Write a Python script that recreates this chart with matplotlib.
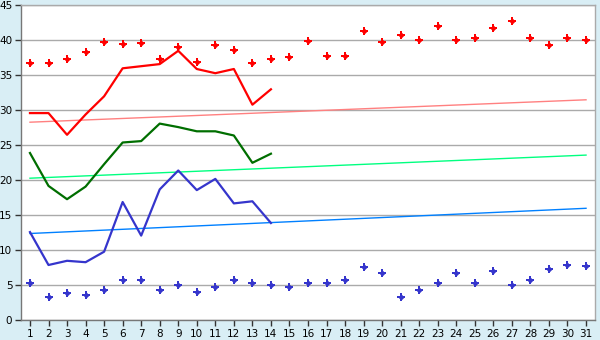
import matplotlib
matplotlib.use("Agg")
import matplotlib.pyplot as plt
import numpy as np

days = list(range(1, 32))
day_labels = [str(d) for d in days]

max_points = [36.7, 36.7, 37.3, 38.4, 39.7, 39.5, 39.6, 37.3, 39.0, 36.9,
              39.4, 38.6, 36.7, 37.3, 37.6, 39.9, 37.7, 37.7, 41.3, 39.7,
              40.7, 40.0, 42.0, 40.0, 40.4, 41.7, 42.7, 40.4, 39.4, 40.4, 40.0]
min_points = [5.3, 3.4, 3.9, 3.6, 4.4, 5.7, 5.7, 4.4, 5.0, 4.1,
              4.7, 5.7, 5.4, 5.0, 4.7, 5.3, 5.4, 5.7, 7.6, 6.7,
              3.4, 4.4, 5.4, 6.7, 5.4, 7.1, 5.0, 5.7, 7.3, 7.9, 7.7]

line_days = list(range(1, 15))
red_line = [29.6, 29.6, 26.5, 29.4, 32.0, 36.0, 36.3, 36.6, 38.5, 35.9, 35.3, 35.9, 30.8, 33.0]
green_line = [23.9, 19.2, 17.3, 19.1, 22.3, 25.4, 25.6, 28.1, 27.6, 27.0, 27.0, 26.4, 22.5, 23.8]
blue_line = [12.6, 7.9, 8.5, 8.3, 9.8, 16.9, 12.1, 18.7, 21.4, 18.6, 20.2, 16.7, 17.0, 13.9]

trend_days = [1, 31]
red_trend = [28.3, 31.5]
green_trend = [20.3, 23.6]
blue_trend = [12.4, 16.0]

yticks = list(range(0, 50, 5))

bg = "#D9EEF5"
fig = plt.figure(figsize=(6, 3.4), dpi=100, facecolor=bg)
ax = fig.add_axes([20.7/600, 1-320.3/340, (595.3-20.7)/600, (320.3-5.3)/340])
ax.set_facecolor("white")

for y in yticks:
    ax.axhline(y, color="#AAAAAA", lw=1.0, zorder=1)

ax.plot(trend_days, red_trend, color="#FF8080", lw=1.0, zorder=2)
ax.plot(trend_days, green_trend, color="#00FF80", lw=1.0, zorder=2)
ax.plot(trend_days, blue_trend, color="#0080FF", lw=1.0, zorder=2)

ax.plot(line_days, red_line, color="#FF0000", lw=1.6, zorder=3)
ax.plot(line_days, green_line, color="#006E00", lw=1.6, zorder=3)
ax.plot(line_days, blue_line, color="#3535CC", lw=1.6, zorder=3)

for vals, col in ((max_points, "#FF0000"), (min_points, "#3535CC")):
    ax.plot(days, vals, linestyle="none", marker="P", markersize=5.5,
            color=col, markeredgewidth=0, zorder=4)
    ax.plot(days, vals, linestyle="none", marker="D", markersize=3.2,
            color=col, markeredgewidth=0, zorder=4)

ax.set_xlim(0.5, 31.5)
ax.set_ylim(0, 45)
ax.set_xticks(days)
ax.set_xticklabels(day_labels)
ax.set_yticks(yticks)
ax.tick_params(axis="both", labelsize=7.5, length=4, width=1, color="#333333", pad=2)
for s in ax.spines.values():
    s.set_color("#AAAAAA")
    s.set_linewidth(1.0)
ax.spines["left"].set_color("#777777")
ax.spines["bottom"].set_color("#777777")

fig.savefig("out.png", dpi=100, facecolor=bg)
